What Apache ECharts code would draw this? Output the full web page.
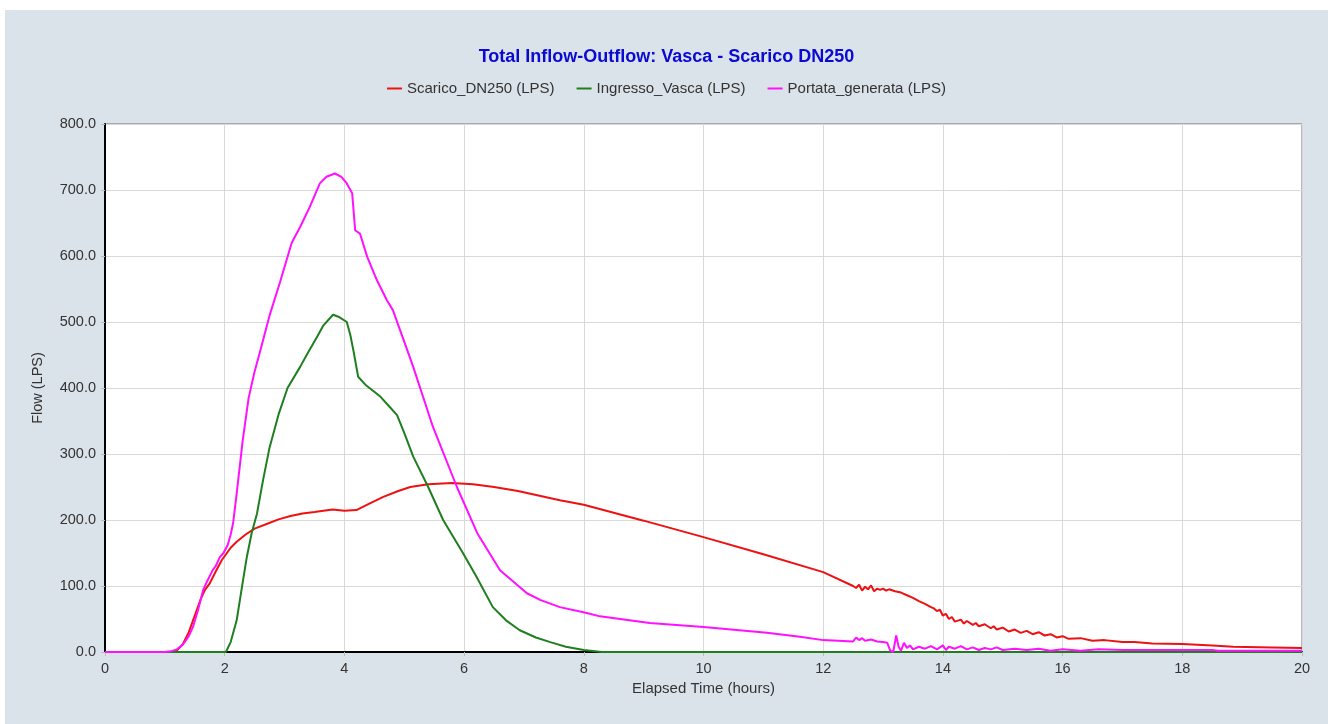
<!DOCTYPE html>
<html>
<head>
<meta charset="utf-8">
<script src="https://cdn.jsdelivr.net/npm/echarts@6/dist/echarts.min.js"></script>
<style>
    body {
        margin: 0;
        background-color: #fff;
    }

    #chart {
        position: absolute;
        left: 5px;
        top: 10px;
        width: 1323px;
        height: 714px;
    }
</style>
</head>
<body>
<div id="chart"></div>
<script>
    // Scarico_DN250 (LPS)
    var scaricoT = [0, 1.1, 1.2, 1.3, 1.4, 1.5, 1.6, 1.67, 1.75, 1.85, 1.95, 2.1, 2.2, 2.35, 2.5, 2.7, 2.9, 3.1, 3.3, 3.5, 3.8, 4.0, 4.2, 4.4, 4.65, 4.9, 5.1, 5.4, 5.8, 6.15, 6.5, 6.9, 7.6, 8.0, 9.0, 10.0, 11.0, 12.0, 12.5,
        12.55, 12.6, 12.65, 12.7, 12.75, 12.8, 12.85, 12.9, 12.95, 13.0, 13.05, 13.1, 13.2, 13.3, 13.4, 13.5, 13.6, 13.7, 13.8, 13.85, 13.9, 13.95, 14.0, 14.05, 14.1, 14.15, 14.2, 14.3, 14.35, 14.4, 14.5, 14.55, 14.6, 14.7, 14.8, 14.85, 14.9, 15.0, 15.1, 15.2, 15.3, 15.4, 15.5, 15.6, 15.7, 15.8, 15.9, 16.0, 16.1, 16.3, 16.5, 16.7, 17.0, 17.2, 17.5, 18.0, 18.5, 18.85, 19.5, 20];
    var scaricoV = [0, 0, 2, 12, 30, 55, 80, 94, 104, 122, 139, 158, 167, 178, 187, 194, 201, 206, 210, 212, 216, 214, 215, 224, 235, 244, 250, 254, 256, 254, 250, 244, 230, 223, 199, 174, 148, 121, 100,
        97, 102, 93, 99, 95, 101, 92, 96, 94, 96, 93, 95, 92, 90, 86, 82, 77, 73, 68, 66, 62, 64, 55, 58, 50, 53, 46, 49, 43, 47, 41, 44, 39, 42, 36, 39, 34, 37, 31, 34, 29, 32, 27, 30, 25, 27, 22, 24, 20, 21, 17, 18, 15, 15, 13, 12, 10, 8, 7, 6];

    // Ingresso_Vasca (LPS)
    var ingressoT = [0, 2.02, 2.1, 2.2, 2.3, 2.37, 2.45, 2.54, 2.64, 2.75, 2.9, 3.05, 3.26, 3.4, 3.54, 3.65, 3.81, 3.9, 4.04, 4.1, 4.15, 4.23, 4.35, 4.6, 4.75, 4.88, 5.0, 5.15, 5.4, 5.65, 5.98, 6.2, 6.48, 6.7, 6.93, 7.2, 7.44, 7.7, 8.0, 8.3, 20];
    var ingressoV = [0, 0, 15, 48, 105, 144, 180, 210, 260, 310, 360, 400, 432, 455, 477, 495, 511, 508, 500, 480, 457, 417, 405, 387, 372, 359, 332, 296, 250, 200, 150, 115, 68, 48, 33, 22, 15, 8, 3, 0, 0];

    // Portata_generata (LPS)
    var portataT = [0, 1.0, 1.1, 1.2, 1.3, 1.4, 1.47, 1.55, 1.64, 1.7, 1.8, 1.85, 1.92, 1.98, 2.05, 2.1, 2.14, 2.2, 2.3, 2.4, 2.5, 2.59, 2.75, 2.92, 3.12, 3.26, 3.42, 3.59, 3.7, 3.84, 3.95, 4.04, 4.13, 4.18, 4.26, 4.38, 4.54, 4.71, 4.81, 5.04, 5.15, 5.48, 5.88, 6.22, 6.6, 7.05, 7.27, 7.6, 8.05, 8.27, 9.1, 10.0, 11.06, 11.61, 12.0, 12.5,
        12.55, 12.6, 12.65, 12.7, 12.8, 12.9, 13.0, 13.07, 13.12, 13.17, 13.22, 13.26, 13.3, 13.35, 13.4, 13.45, 13.5, 13.6, 13.7, 13.8, 13.9, 14.0, 14.05, 14.1, 14.2, 14.3, 14.4, 14.5, 14.6, 14.7, 14.8, 14.9, 15.0, 15.2, 15.4, 15.6, 15.8, 16.0, 16.3, 16.6, 17.0, 17.5, 18.5, 18.6, 20];
    var portataV = [0, 0, 1, 4, 11, 24, 38, 62, 94, 106, 124, 130, 144, 150, 162, 178, 195, 240, 320, 385, 425, 455, 510, 559, 620, 644, 674, 710, 720, 725, 720, 710, 695, 639, 634, 599, 564, 533, 518, 460, 432, 341, 250, 180, 124, 89, 79, 68, 59, 54, 44, 38, 29, 23, 18, 16,
        22, 18, 21, 17, 19, 16, 15, 14, 2, 0, 25, 8, 2, 14, 6, 10, 4, 8, 5, 9, 4, 10, 3, 8, 5, 9, 4, 7, 3, 6, 4, 7, 3, 5, 3, 5, 2, 4, 2, 4, 3, 3, 3, 2, 2];

    var yTicks = [0, 100, 200, 300, 400, 500, 600, 700, 800];

    function zip(t, v) {
        var out = [];
        for (var i = 0; i < t.length; i++) {
            out.push([t[i], v[i]]);
        }
        return out;
    }

    var myChart = echarts.init(document.getElementById('chart'));
    var font = '"Liberation Sans", Arial, sans-serif';

    myChart.setOption({
        animation: false,
        backgroundColor: '#dbe3ea',
        textStyle: { fontFamily: font },
        title: {
            text: 'Total Inflow-Outflow: Vasca - Scarico DN250',
            left: 'center',
            top: 33,
            textStyle: { color: '#0a0ad2', fontSize: 18, fontWeight: 'bold', fontFamily: font }
        },
        legend: {
            top: 66,
            left: 'center',
            icon: 'rect',
            itemWidth: 15,
            itemHeight: 2,
            itemGap: 22,
            textStyle: { color: '#333', fontSize: 15, fontFamily: font },
            data: ['Scarico_DN250 (LPS)', 'Ingresso_Vasca (LPS)', 'Portata_generata (LPS)']
        },
        grid: {
            left: 100,
            right: 26,
            top: 114,
            bottom: 72,
            show: true,
            backgroundColor: '#fff',
            borderColor: '#707070',
            borderWidth: 1
        },
        xAxis: {
            type: 'value',
            min: 0,
            max: 20,
            interval: 2,
            name: 'Elapsed Time (hours)',
            nameLocation: 'middle',
            nameGap: 29,
            nameTextStyle: { color: '#333', fontSize: 15, fontFamily: font },
            axisLine: { lineStyle: { color: '#000', width: 2 } },
            axisTick: { show: true, length: 4, lineStyle: { color: '#bbb' } },
            axisLabel: { color: '#333', fontSize: 14.5, margin: 9, fontFamily: font },
            splitLine: { show: true, lineStyle: { color: '#d9d9d9', width: 1 } }
        },
        yAxis: {
            type: 'value',
            min: 0,
            max: 800,
            interval: 100,
            name: 'Flow (LPS)',
            nameLocation: 'middle',
            nameGap: 60,
            nameTextStyle: { color: '#333', fontSize: 14.5, fontFamily: font },
            axisLine: { show: true, lineStyle: { color: '#000', width: 2 } },
            axisTick: { show: true, length: 4, lineStyle: { color: '#bbb' } },
            axisLabel: {
                color: '#333',
                fontSize: 14.5,
                margin: 9,
                fontFamily: font,
                formatter: function (v) { return v.toFixed(1); }
            },
            splitLine: { show: true, lineStyle: { color: '#d9d9d9', width: 1 } }
        },
        series: [
            {
                name: 'Scarico_DN250 (LPS)',
                type: 'line',
                showSymbol: false,
                color: '#ee1111',
                lineStyle: { width: 2 },
                data: zip(scaricoT, scaricoV)
            },
            {
                name: 'Ingresso_Vasca (LPS)',
                type: 'line',
                showSymbol: false,
                color: '#1f7f1f',
                lineStyle: { width: 2 },
                data: zip(ingressoT, ingressoV)
            },
            {
                name: 'Portata_generata (LPS)',
                type: 'line',
                showSymbol: false,
                color: '#ff10ff',
                lineStyle: { width: 2 },
                data: zip(portataT, portataV)
            }
        ]
    });
</script>
</body>
</html>
